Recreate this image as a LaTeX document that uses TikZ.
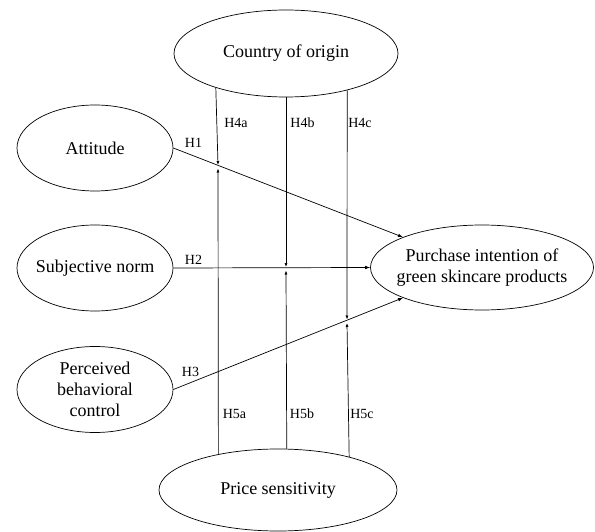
\documentclass[tikz,border=0pt]{standalone}
\usepackage{fontspec}
\setmainfont{Liberation Serif}
\usetikzlibrary{shapes.geometric,arrows.meta}
\tikzset{
  ell/.style={ellipse, draw, line width=0.7pt, inner sep=0pt},
  txt/.style={inner sep=0pt, align=center, font=\fontsize{18}{21}\selectfont},
  lab/.style={inner sep=0pt, font=\fontsize{14}{16}\selectfont},
  conn/.style={line width=0.7pt},
  arr/.style={line width=0.7pt, -{Latex[length=5pt,width=3.6pt]}},
  sarr/.style={line width=0.7pt, -{Latex[length=4pt,width=3pt]}}
}
\begin{document}
\begin{tikzpicture}[x=1pt,y=-1pt]
\useasboundingbox (0,0) rectangle (595,532);
% ellipses
\node[ell, minimum width=224pt, minimum height=87pt] (coo) at (286,53.5) {};
\node[txt] at (coo.center) {Country of origin};
\node[ell, minimum width=156pt, minimum height=86pt] (att) at (95,148) {};
\node[txt] at (att.center) {Attitude};
\node[ell, minimum width=156pt, minimum height=86pt] (sn) at (95,268) {};
\node[txt] at (sn.center) {Subjective norm};
\node[ell, minimum width=156pt, minimum height=86pt] (pbc) at (95,389.5) {};
\node[txt] at (pbc.center) {Perceived\\behavioral\\control};
\node[ell, minimum width=223pt, minimum height=85pt] (pi) at (482,267.5) {};
\node[txt] at (pi.center) {Purchase intention of\\green skincare products};
\node[ell, minimum width=238pt, minimum height=82pt] (ps) at (278,490) {};
\node[txt] at (ps.center) {Price sensitivity};
% direct paths
\draw[arr] (att.east) -- (pi.159.6);
\draw[arr] (sn.east) -- (pi.west);
\draw[arr] (pbc.east) -- (pi.201);
% crossing points
\coordinate (m1a) at (218,165);
\coordinate (m1b) at (218,168.5);
\coordinate (m2a) at (286,267);
\coordinate (m2b) at (286,270.5);
\coordinate (m3a) at (347,319.5);
\coordinate (m3b) at (347,323);
% moderators
\draw[sarr] (coo.206.95) -- (m1a);
\draw[sarr] (coo.south) -- (m2a);
\draw[sarr] (coo.329.12) -- (m3a);
\draw[sarr] (ps.149.5) -- (m1b);
\draw[sarr] (ps.78.9) -- (m2b);
\draw[sarr] (ps.25.8) -- (m3b);
% labels
\node[lab] at (193.5,143) {H1};
\node[lab] at (193.5,260) {H2};
\node[lab] at (190.5,372) {H3};
\node[lab] at (236,122.5) {H4a};
\node[lab] at (302.5,122.5) {H4b};
\node[lab] at (360,122.5) {H4c};
\node[lab] at (234.5,413.5) {H5a};
\node[lab] at (302,413.5) {H5b};
\node[lab] at (362,413.5) {H5c};
\end{tikzpicture}
\end{document}
